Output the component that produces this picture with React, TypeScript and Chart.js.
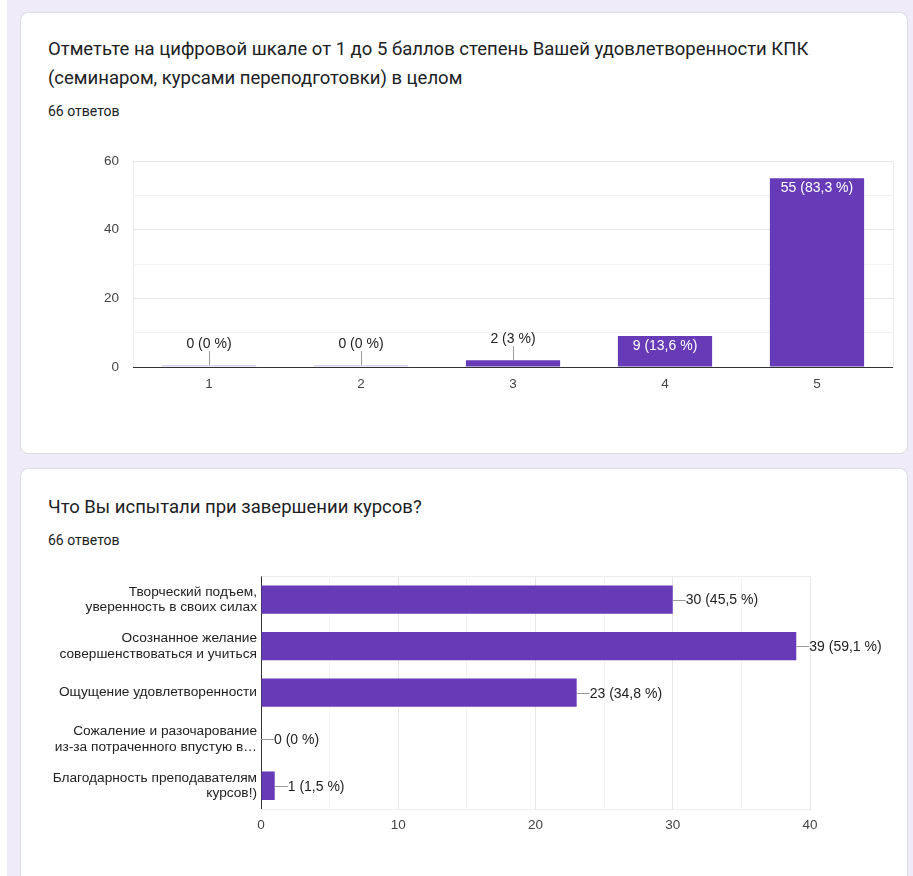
import React, { useEffect, useRef } from "react";
import { Chart, registerables } from "chart.js";

Chart.register(...registerables);

// ---- Chart 1 data ----
const scaleCategories = ["1", "2", "3", "4", "5"];
const scaleValues = [0, 0, 2, 9, 55];
const scalePercents = ["0", "0", "3", "13,6", "83,3"];
const scaleTicks = [0, 20, 40, 60];

// ---- Chart 2 data ----
const feelCategories = [
  ["Творческий подъем,", "уверенность в своих силах"],
  ["Осознанное желание", "совершенствоваться и учиться"],
  ["Ощущение удовлетворенности"],
  ["Сожаление и разочарование", "из-за потраченного впустую в…"],
  ["Благодарность преподавателям", "курсов!)"],
];
const feelValues = [30, 39, 23, 0, 1];
const feelPercents = ["45,5", "59,1", "34,8", "0", "1,5"];
const feelTicks = [0, 10, 20, 30, 40];

const PURPLE = "#673ab7";
const FONT = '"Liberation Sans", Arial, sans-serif';
const TITLE_FONT = 'Roboto, "Noto Sans", sans-serif';

const boxPlugin = {
  id: "box",
  beforeDraw(chart: any) {
    const { ctx, chartArea } = chart;
    ctx.save();
    ctx.strokeStyle = "#ececec";
    ctx.lineWidth = 1;
    ctx.strokeRect(
      Math.round(chartArea.left) + 0.5,
      Math.round(chartArea.top) + 0.5,
      Math.round(chartArea.right - chartArea.left),
      Math.round(chartArea.bottom - chartArea.top)
    );
    ctx.restore();
  },
};

const vLabelPlugin = {
  id: "vlabels",
  afterDatasetsDraw(chart: any) {
    const ctx = chart.ctx;
    const meta = chart.getDatasetMeta(0);
    meta.data.forEach((bar: any, i: number) => {
      const text = `${scaleValues[i]} (${scalePercents[i]} %)`;
      const top = Math.min(bar.y, bar.base);
      const h = Math.abs(bar.base - bar.y);
      ctx.save();
      ctx.font = `14px ${FONT}`;
      ctx.textAlign = "center";
      ctx.textBaseline = "middle";
      if (h > 24) {
        ctx.fillStyle = "#ffffff";
        ctx.fillText(text, bar.x, top + 10);
      } else {
        ctx.strokeStyle = "#999999";
        ctx.lineWidth = 1;
        ctx.beginPath();
        ctx.moveTo(Math.round(bar.x) + 0.5, top);
        ctx.lineTo(Math.round(bar.x) + 0.5, top - 14);
        ctx.stroke();
        ctx.fillStyle = "#222222";
        ctx.fillText(text, bar.x, top - 21);
      }
      ctx.restore();
    });
  },
};

const hLabelPlugin = {
  id: "hlabels",
  afterDatasetsDraw(chart: any) {
    const ctx = chart.ctx;
    const meta = chart.getDatasetMeta(0);
    meta.data.forEach((bar: any, i: number) => {
      const text = `${feelValues[i]} (${feelPercents[i]} %)`;
      const end = Math.max(bar.x, bar.base);
      const y = Math.round(bar.y) + 0.5;
      ctx.save();
      ctx.strokeStyle = "#999999";
      ctx.lineWidth = 1;
      ctx.beginPath();
      ctx.moveTo(end, y);
      ctx.lineTo(end + 13, y);
      ctx.stroke();
      ctx.font = `14px ${FONT}`;
      ctx.textAlign = "left";
      ctx.textBaseline = "middle";
      ctx.fillStyle = "#222222";
      ctx.fillText(text, end + 13, bar.y + 1);
      ctx.restore();
    });
  },
};

function ScaleChart() {
  const ref = useRef<HTMLCanvasElement>(null);
  useEffect(() => {
    if (!ref.current) return;
    const chart = new Chart(ref.current, {
      type: "bar",
      data: {
        labels: scaleCategories,
        datasets: [
          {
            data: scaleValues,
            backgroundColor: scaleValues.map((v) => (v === 0 ? "#d9cff0" : PURPLE)),
            borderWidth: 0,
            minBarLength: 2,
            categoryPercentage: 1,
            barPercentage: 0.62,
          },
        ],
      },
      options: {
        animation: false,
        responsive: false,
        devicePixelRatio: 1,
        layout: { padding: { top: 21, right: 8, left: 0, bottom: 0 } },
        plugins: { legend: { display: false }, tooltip: { enabled: false } },
        scales: {
          x: {
            grid: { display: false, drawTicks: false },
            border: { display: false },
            ticks: { color: "#444", font: { size: 13.5, family: FONT }, padding: 9 },
            afterFit: (s: any) => {
              s.height = 52;
            },
          },
          y: {
            min: 0,
            max: 60,
            afterBuildTicks: (s: any) => {
              s.ticks = [0, 10, 20, 30, 40, 50, 60].map((v) => ({ value: v }));
            },
            grid: {
              drawTicks: false,
              color: (c: any) =>
                c.tick && c.tick.value === 0
                  ? "#333333"
                  : c.tick && c.tick.value % 20 === 0
                  ? "#e6e6e6"
                  : "#f3f3f3",
            },
            border: { display: false },
            ticks: {
              color: "#444",
              font: { size: 13.5, family: FONT },
              padding: 14,
              callback: (v: any) => (scaleTicks.includes(Number(v)) ? String(v) : ""),
            },
            afterFit: (s: any) => {
              s.width = 112;
            },
          },
        },
      },
      plugins: [boxPlugin, vLabelPlugin],
    } as any);
    return () => chart.destroy();
  }, []);
  return <canvas ref={ref} width={880} height={280} style={{ position: "absolute", left: 0, top: 126 }} />;
}

function FeelChart() {
  const ref = useRef<HTMLCanvasElement>(null);
  useEffect(() => {
    if (!ref.current) return;
    const chart = new Chart(ref.current, {
      type: "bar",
      data: {
        labels: feelCategories,
        datasets: [
          {
            data: feelValues,
            backgroundColor: PURPLE,
            borderWidth: 0,
            categoryPercentage: 1,
            barPercentage: 0.61,
          },
        ],
      },
      options: {
        indexAxis: "y",
        animation: false,
        responsive: false,
        devicePixelRatio: 1,
        layout: { padding: { top: 15, right: 91, left: 0, bottom: 0 } },
        plugins: { legend: { display: false }, tooltip: { enabled: false } },
        scales: {
          x: {
            min: 0,
            max: 40,
            afterBuildTicks: (s: any) => {
              s.ticks = [0, 5, 10, 15, 20, 25, 30, 35, 40].map((v) => ({ value: v }));
            },
            grid: {
              drawTicks: false,
              color: (c: any) =>
                c.tick && c.tick.value === 0
                  ? "#333333"
                  : c.tick && c.tick.value % 10 === 0
                  ? "#e6e6e6"
                  : "#f3f3f3",
            },
            border: { display: false },
            ticks: {
              color: "#444",
              font: { size: 13.5, family: FONT },
              padding: 8,
              maxRotation: 0,
              autoSkip: false,
              callback: (v: any) => (feelTicks.includes(Number(v)) ? String(v) : ""),
            },
            afterFit: (s: any) => {
              s.height = 38;
            },
          },
          y: {
            grid: { display: false, drawTicks: false },
            border: { display: false },
            ticks: {
              color: "#222",
              font: { size: 13.7, family: FONT, lineHeight: 1.12 },
              padding: 4,
              autoSkip: false,
            },
            afterFit: (s: any) => {
              s.width = 240;
            },
          },
        },
      },
      plugins: [boxPlugin, hLabelPlugin],
    } as any);
    return () => chart.destroy();
  }, []);
  return <canvas ref={ref} width={880} height={290} style={{ position: "absolute", left: 0, top: 88 }} />;
}

const cardStyle: React.CSSProperties = {
  position: "absolute",
  left: 20,
  width: 886,
  background: "#ffffff",
  border: "1px solid #dadce0",
  borderRadius: 8,
  overflow: "hidden",
};

const titleStyle: React.CSSProperties = {
  position: "absolute",
  left: 27,
  margin: 0,
  fontFamily: TITLE_FONT,
  fontSize: 18.5,
  lineHeight: "29px",
  color: "#202124",
  whiteSpace: "nowrap",
  fontWeight: 400,
};

const subStyle: React.CSSProperties = {
  position: "absolute",
  left: 27,
  fontFamily: TITLE_FONT,
  fontSize: 14,
  lineHeight: "16px",
  color: "#202124",
  whiteSpace: "nowrap",
};

export default function App() {
  useEffect(() => {
    document.body.style.margin = "0";
    document.body.style.background = "#ffffff";
  }, []);
  return (
    <div
      style={{
        position: "relative",
        width: 913,
        height: 876,
        overflow: "hidden",
        background: "#ffffff",
      }}
    >
      <div style={{ position: "absolute", left: 7, top: 0, right: 0, bottom: 0, background: "#efebf8" }} />
      <div style={{ ...cardStyle, top: 12, height: 440 }}>
        <div style={{ ...titleStyle, top: 22 }}>
          Отметьте на цифровой шкале от 1 до 5 баллов степень Вашей удовлетворенности КПК
          <br />
          (семинаром, курсами переподготовки) в целом
        </div>
        <div style={{ ...subStyle, top: 90 }}>66 ответов</div>
        <ScaleChart />
      </div>
      <div style={{ ...cardStyle, top: 468, height: 430 }}>
        <div style={{ ...titleStyle, top: 24 }}>Что Вы испытали при завершении курсов?</div>
        <div style={{ ...subStyle, top: 63 }}>66 ответов</div>
        <FeelChart />
      </div>
    </div>
  );
}
